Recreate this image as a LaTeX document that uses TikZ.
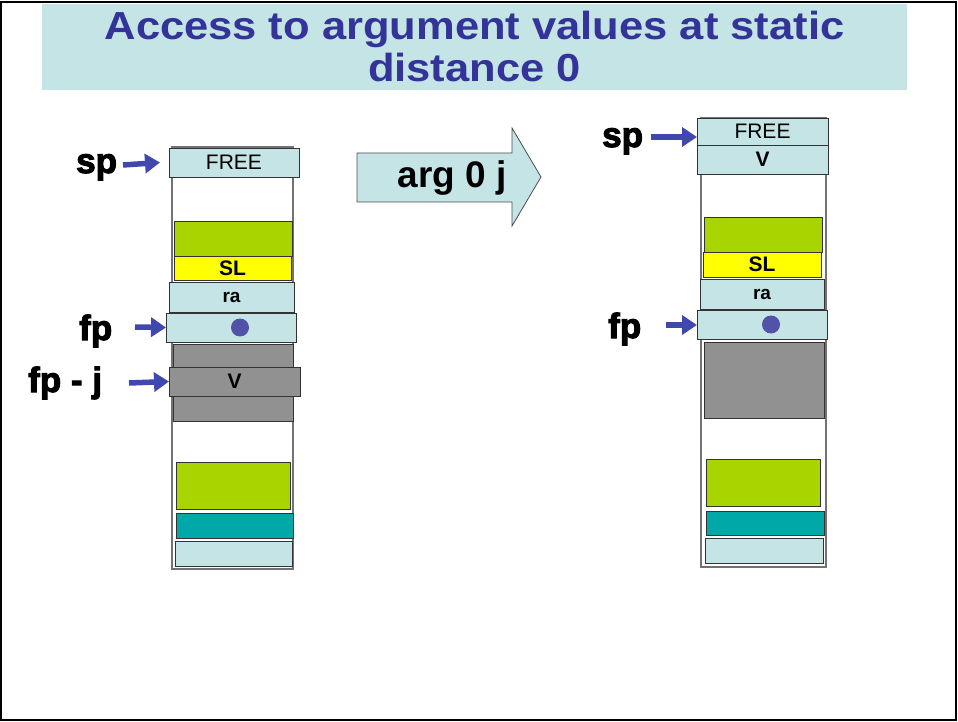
\documentclass[tikz,border=0pt]{standalone}
\usepackage{fontspec}
\setmainfont{Liberation Sans}
\newfontfamily\heavyfont[FakeBold=3]{Liberation Sans Bold}
\usetikzlibrary{arrows.meta}
\definecolor{paleblue}{RGB}{196,228,230}
\definecolor{titleblue}{RGB}{51,51,153}
\definecolor{lime}{RGB}{168,212,0}
\definecolor{slyellow}{RGB}{255,255,0}
\definecolor{midgrey}{RGB}{145,145,145}
\definecolor{tealbox}{RGB}{0,168,168}
\definecolor{ptrblue}{RGB}{64,72,176}
\tikzset{
  cell/.style={draw=black!80, line width=0.9pt, inner sep=0pt, outer sep=0pt},
  column/.style={draw=black!55, line width=1.1pt, fill=white, inner sep=0pt},
  reglabel/.style={font=\heavyfont\fontsize{35}{38}\selectfont, inner sep=0pt},
  titletext/.style={text=titleblue, font=\bfseries\fontsize{43.5}{45}\selectfont, anchor=base, inner sep=0pt},
  ptr/.style={draw=ptrblue, line width=5.5pt, -{Triangle[length=15pt,width=19pt]}},
}
\begin{document}
\begin{tikzpicture}[x=1pt,y=-1pt]
\useasboundingbox (0,0) rectangle (958,722);
% frame and title band
\draw[line width=1.6pt] (1,2) rectangle (956,720);
\fill[paleblue] (42,4) rectangle (907,90);
\node[titletext] (title1) at (474.5,40) {\scalebox{1}[0.9]{Access to argument values at static}};
\node[titletext] (title2) at (474.5,82) {\scalebox{1}[0.9]{distance 0}};

% ---------- stack before the instruction ----------
\node[column, minimum width=121, minimum height=422] (lcol) at (232.5,358) {};
\node[cell, fill=paleblue, minimum width=130, minimum height=29, font=\fontsize{21}{22}\selectfont] (lfree) at (234,162.5) {FREE};
\node[cell, fill=lime, minimum width=118, minimum height=35] (lg1) at (233,238.5) {};
\node[cell, fill=slyellow, minimum width=117, minimum height=24, font=\bfseries\fontsize{21}{22}\selectfont] (lsl) at (232.5,268) {SL};
\node[cell, fill=paleblue, minimum width=125, minimum height=30, font=\bfseries\fontsize{19}{20}\selectfont] (lra) at (231.5,297) {ra};
\node[cell, fill=paleblue, minimum width=130, minimum height=29] (lfp) at (231,327.5) {};
\fill[titleblue!85] (lfp.center) ++(9,0) circle[radius=9];
\node[cell, fill=midgrey, minimum width=120, minimum height=77] (lgrey) at (233,382.5) {};
\node[cell, fill=midgrey, minimum width=131, minimum height=29, font=\bfseries\fontsize{21}{22}\selectfont] (lv) at (234.5,381.5) {V};
\node[cell, fill=lime, minimum width=114, minimum height=47] (lg2) at (233,485.5) {};
\node[cell, fill=tealbox, minimum width=117, minimum height=25] (lteal) at (234.5,525.5) {};
\node[cell, fill=paleblue, minimum width=117, minimum height=25] (lcy) at (233.5,553.5) {};

\node[reglabel, anchor=base west] (lsp) at (76,173) {sp};
\node[reglabel, anchor=base west] (lfplab) at (79,340) {fp};
\node[reglabel, anchor=base west] (lfpj) at (28,392) {fp - j};
\coordinate (lspT) at (123,165);
\coordinate (lfpT) at (135,327);
\coordinate (lfpjT) at (129,383);
\draw[ptr] (lspT) -- (lfree.west -| 160,165);
\draw[ptr] (lfpT) -- (lfp.west);
\draw[ptr] (lfpjT) -- (lv.west);

% ---------- the instruction ----------
\draw[fill=paleblue, draw=black!70, line width=0.8pt]
  (357,153) -- (512,153) -- (512,128) -- (541,177) -- (512,226) -- (512,202) -- (357,202) -- cycle;
\node[font=\bfseries\fontsize{37}{40}\selectfont, anchor=base] (op) at (452,188) {arg 0 j};

% ---------- stack after the instruction ----------
\node[column, minimum width=125, minimum height=449] (rcol) at (763.5,342.5) {};
\node[cell, fill=paleblue, minimum width=131, minimum height=27, font=\fontsize{21}{22}\selectfont] (rfree) at (762.5,131.5) {FREE};
\node[cell, fill=paleblue, minimum width=131, minimum height=29, font=\bfseries\fontsize{21}{22}\selectfont] (rv) at (762.5,159.5) {V};
\node[cell, fill=lime, minimum width=118, minimum height=35] (rg1) at (763,234.5) {};
\node[cell, fill=slyellow, minimum width=118, minimum height=25, font=\bfseries\fontsize{21}{22}\selectfont] (rsl) at (762,264.5) {SL};
\node[cell, fill=paleblue, minimum width=124, minimum height=30, font=\bfseries\fontsize{19}{20}\selectfont] (rra) at (762,294) {ra};
\node[cell, fill=paleblue, minimum width=130, minimum height=29] (rfp) at (762,324.5) {};
\fill[titleblue!85] (rfp.center) ++(9,0) circle[radius=9];
\node[cell, fill=midgrey, minimum width=120, minimum height=76] (rgrey) at (764,380) {};
\node[cell, fill=lime, minimum width=114, minimum height=47] (rg2) at (763,482.5) {};
\node[cell, fill=tealbox, minimum width=118, minimum height=24] (rteal) at (765,523) {};
\node[cell, fill=paleblue, minimum width=118, minimum height=25] (rcy) at (764,550.5) {};

\node[reglabel, anchor=base west] (rsp) at (602,147) {sp};
\node[reglabel, anchor=base west] (rfplab) at (608,338) {fp};
\coordinate (rspT) at (651,137);
\coordinate (rfpT) at (666,325);
\draw[ptr] (rspT) -- (rfree.west |- rspT);
\draw[ptr] (rfpT) -- (rfp.west |- rfpT);
\end{tikzpicture}
\end{document}
